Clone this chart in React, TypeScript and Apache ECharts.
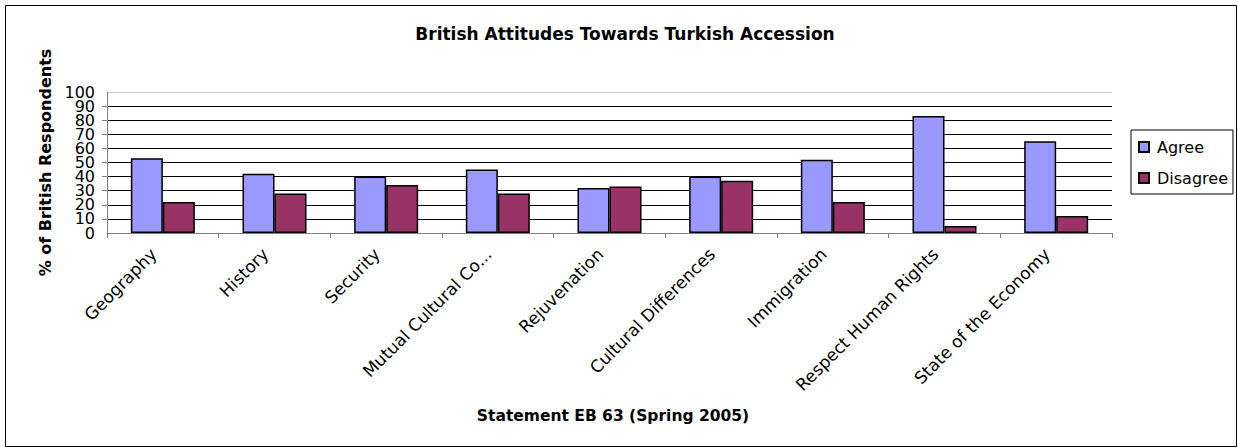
import React, { useEffect, useRef } from "react";
import * as echarts from "echarts";

const categories = [
  "Geography",
  "History",
  "Security",
  "Mutual Cultural Co...",
  "Rejuvenation",
  "Cultural Differences",
  "Immigration",
  "Respect Human Rights",
  "State of the Economy",
];
const agree = [53, 42, 40, 45, 32, 40, 52, 83, 65];
const disagree = [22, 28, 34, 28, 33, 37, 22, 5, 12];
const seriesNames = ["Agree", "Disagree"];
const titleText = "British Attitudes Towards Turkish Accession";
const xTitle = "Statement EB 63 (Spring 2005)";
const yTitle = "% of British Respondents";

const FONT = "DejaVu Sans";

export default function App() {
  const ref = useRef<HTMLDivElement>(null);
  useEffect(() => {
    document.body.style.margin = "0";
    const chart = echarts.init(ref.current!, undefined, { renderer: "svg" });
    const gridColors = ["#000", "#000", "#000", "#000", "#000", "#000", "#000", "#000", "#000", "#000", "#c8c8c8"];
    const yLabelStyle = {
      margin: 12,
      fontFamily: FONT,
      fontSize: 16,
      lineHeight: 12,
      color: "#000",
      hideOverlap: false,
    };
    chart.setOption({
      animation: false,
      backgroundColor: "#fff",
      textStyle: { fontFamily: FONT },
      title: [
        {
          text: titleText,
          left: 620,
          top: 20,
          textAlign: "center",
          textStyle: { fontFamily: FONT, fontSize: 17, fontWeight: "bold", color: "#000" },
        },
        {
          text: xTitle,
          left: 608,
          top: 403,
          textAlign: "center",
          textStyle: { fontFamily: FONT, fontSize: 15.5, fontWeight: "bold", color: "#000" },
        },
      ],
      legend: {
        orient: "vertical",
        left: 1131,
        top: 130,
        padding: [8, 5, 7, 7],
        itemGap: 13,
        itemWidth: 10,
        itemHeight: 10,
        icon: "rect",
        borderColor: "#000",
        borderWidth: 1,
        textStyle: { fontFamily: FONT, fontSize: 16, color: "#000", lineHeight: 18, padding: [0, 0, 0, 3] },
        data: seriesNames,
      },
      grid: { left: 107, right: 126, top: 92, bottom: 215, containLabel: false },
      xAxis: {
        type: "category",
        data: categories,
        axisLine: { lineStyle: { color: "#808080", width: 1 } },
        axisTick: { show: true, length: 5, lineStyle: { color: "#808080" } },
        axisLabel: {
          rotate: 45,
          interval: 0,
          margin: 9,
          padding: [0, 13, 0, 0],
          fontFamily: FONT,
          fontSize: 17,
          color: "#000",
        },
        splitLine: { show: false },
      },
      yAxis: [
        {
          type: "value",
          position: "left",
          offset: 0,
          min: 0,
          max: 100,
          interval: 10,
          name: yTitle,
          nameLocation: "middle",
          nameRotate: 90,
          nameGap: 54,
          nameTextStyle: { fontFamily: FONT, fontSize: 16, fontWeight: "bold", color: "#000" },
          axisLine: { show: true, lineStyle: { color: "#808080", width: 1 } },
          axisTick: { show: true, length: 5, lineStyle: { color: "#808080" } },
          axisLabel: { ...yLabelStyle, showMinLabel: false, showMaxLabel: false },
          splitLine: { show: true, lineStyle: { color: gridColors, width: 1 } },
        },
        {
          type: "value",
          position: "left",
          offset: 0,
          min: 0,
          max: 100,
          interval: 100,
          axisLine: { show: false },
          axisTick: { show: false },
          axisLabel: { ...yLabelStyle, showMinLabel: true, showMaxLabel: true },
          splitLine: { show: false },
        },
      ],
      series: [
        {
          name: seriesNames[0],
          type: "bar",
          yAxisIndex: 0,
          data: agree,
          barWidth: 32,
          barGap: "0%",
          itemStyle: { color: "#9999FF", borderColor: "#000", borderWidth: 1.5 },
        },
        {
          name: seriesNames[1],
          type: "bar",
          yAxisIndex: 0,
          data: disagree,
          barWidth: 32,
          barGap: "0%",
          itemStyle: { color: "#993366", borderColor: "#000", borderWidth: 1.5 },
        },
      ],
      graphic: [
        {
          type: "rect",
          shape: { x: 5.5, y: 5.5, width: 1231, height: 441 },
          style: { fill: "none", stroke: "#000", lineWidth: 1 },
          silent: true,
        },
      ],
    });
    return () => chart.dispose();
  }, []);
  return <div ref={ref} style={{ width: 1238, height: 448 }} />;
}
